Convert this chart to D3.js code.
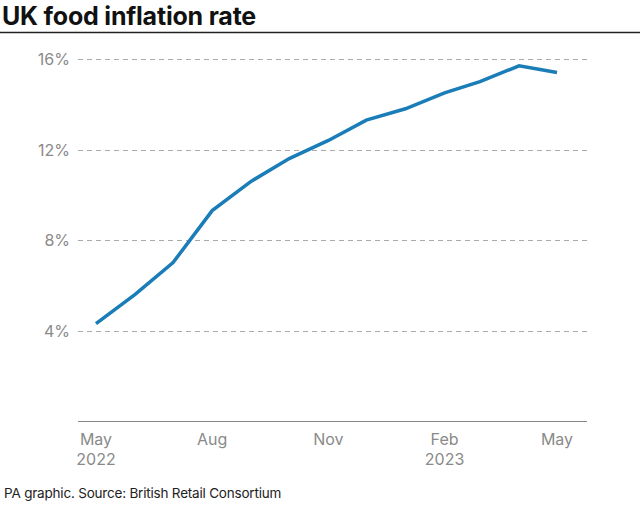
<!DOCTYPE html>
<html><head><meta charset="utf-8">
<script src="https://cdn.jsdelivr.net/npm/d3@7"></script>
<style>body{margin:0;background:#fff;}svg{display:block;font-family:Inter,"Open Sans",sans-serif;}</style>
</head><body>
<svg id="c" width="640" height="507"></svg>
<script>
const months = ["2022-05","2022-06","2022-07","2022-08","2022-09","2022-10","2022-11","2022-12","2023-01","2023-02","2023-03","2023-04","2023-05"];
const values = [4.3,5.6,7.0,9.3,10.6,11.6,12.4,13.3,13.8,14.5,15.0,15.7,15.4];
const yTicks = [4,8,12,16];
const xTickMonths = ["2022-05","2022-08","2022-11","2023-02","2023-05"];
const xTickLabels = [["May","2022"],["Aug"],["Nov"],["Feb","2023"],["May"]];

const svg = d3.select("#c");
const parse = d3.timeParse("%Y-%m");
const data = months.map((m,i)=>({d:parse(m),v:values[i]}));

const x = d3.scaleTime().domain([parse(months[0]), parse(months[months.length-1])]).range([96,557]);
const y = d3.scaleLinear().domain([0,16]).range([421,59]);

svg.append("text").attr("x",2).attr("y",25).attr("font-size",25).attr("font-weight",700)
  .attr("fill","#111").attr("letter-spacing","-0.2").text("UK food inflation rate");
svg.append("line").attr("x1",0).attr("x2",640).attr("y1",32.5).attr("y2",32.5).attr("stroke","#222").attr("stroke-width",1.3);

const g = svg.append("g");
yTicks.forEach(t=>{
  g.append("line").attr("x1",78).attr("x2",587).attr("y1",Math.round(y(t))+0.5).attr("y2",Math.round(y(t))+0.5)
   .attr("stroke","#aaa").attr("stroke-dasharray","5,4").attr("stroke-width",1);
  g.append("text").attr("x",70).attr("y",y(t)+6).attr("text-anchor","end").attr("font-size",16)
   .attr("fill","#8a8a8a").text(t+"%");
});
g.append("line").attr("x1",78).attr("x2",587).attr("y1",421.5).attr("y2",421.5).attr("stroke","#888").attr("stroke-width",1);

xTickMonths.forEach((m,i)=>{
  xTickLabels[i].forEach((s,j)=>{
    g.append("text").attr("x",x(parse(m))).attr("y",445+j*19.5).attr("text-anchor","middle")
      .attr("font-size",16).attr("fill","#8a8a8a").text(s);
  });
});

const line = d3.line().x(d=>x(d.d)).y(d=>y(d.v));
svg.append("path").datum(data).attr("d",line).attr("fill","none").attr("stroke","#1a7db8")
  .attr("stroke-width",3.5).attr("stroke-linejoin","miter");

svg.append("text").attr("x",4).attr("y",498).attr("font-size",13.5).attr("fill","#222")
  .attr("letter-spacing","-0.2").text("PA graphic. Source: British Retail Consortium");
</script>
</body></html>
